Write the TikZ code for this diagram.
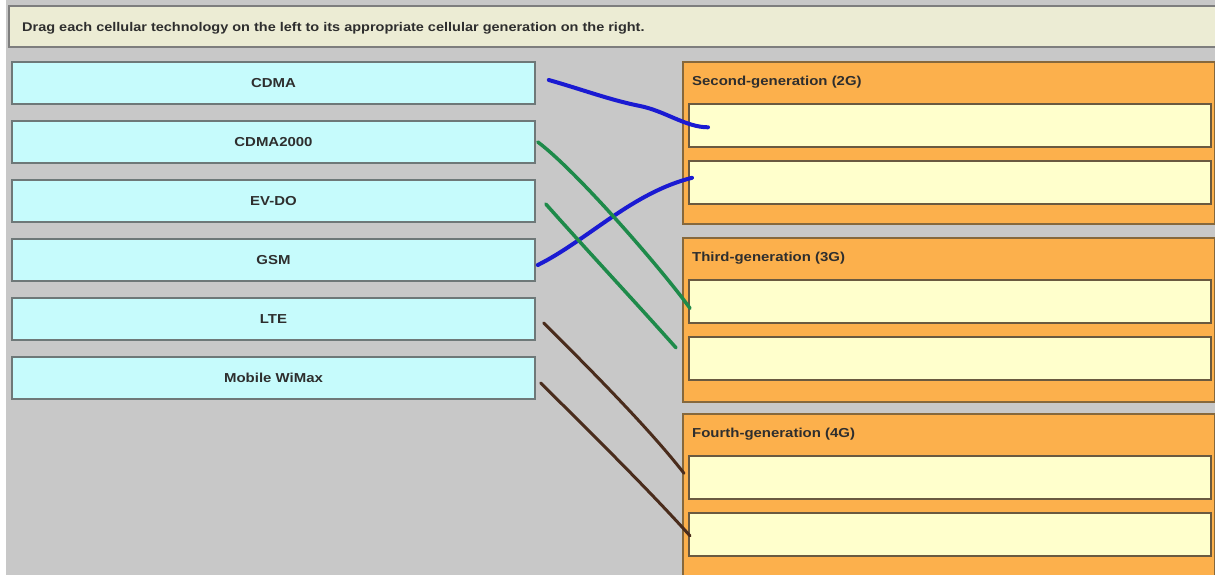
\documentclass[tikz,border=0pt]{standalone}
\usepackage{fontspec}
\setmainfont[FakeStretch=1.15]{Liberation Sans}
\usetikzlibrary{positioning}

\definecolor{bggray}{HTML}{C8C8C8}
\definecolor{bannerfill}{HTML}{ECECD4}
\definecolor{bannerline}{HTML}{7E7E7E}
\definecolor{techfill}{HTML}{C6FBFC}
\definecolor{techline}{HTML}{6E7878}
\definecolor{panelfill}{HTML}{FCB04C}
\definecolor{panelline}{HTML}{86683C}
\definecolor{slotfill}{HTML}{FFFFCC}
\definecolor{slotline}{HTML}{6A5A40}
\definecolor{inktext}{HTML}{2E2E2E}
\definecolor{inkblue}{HTML}{1A1AD2}
\definecolor{inkgreen}{HTML}{1E8A4A}
\definecolor{inkbrown}{HTML}{4A2C1C}

\begin{document}
\begin{tikzpicture}[x=1pt,y=-1pt,node distance=15.4pt,
                    font=\fontsize{13}{15}\selectfont\bfseries,text=inktext,
    banner/.style={draw=bannerline,fill=bannerfill,line width=2pt,anchor=north west,
                   minimum width=1220pt,minimum height=41pt,inner sep=0pt},
    techbox/.style={draw=techline,fill=techfill,line width=1.6pt,
                    minimum width=523pt,minimum height=42pt,inner sep=0pt},
    genpanel/.style={draw=panelline,fill=panelfill,line width=1.6pt,anchor=north west,
                     minimum width=532pt,inner sep=0pt},
    genlabel/.style={anchor=west,inner sep=0pt},
    slot/.style={draw=slotline,fill=slotfill,line width=1.6pt,anchor=north west,
                 minimum width=522pt,minimum height=43pt,inner sep=0pt},
    ink/.style={line width=3.5pt,line cap=round,line join=round}]

  \useasboundingbox (0,0) rectangle (1215,575);
  \clip (0,0) rectangle (1215,575);
  \fill[bggray] (0,0) rectangle (1215,575);
  \fill[white] (0,0) rectangle (6,575);

  % instruction bar
  \node[banner] (task) at (8,5) {};
  \node[anchor=west,inner sep=0pt,font=\fontsize{12.6}{15}\selectfont\bfseries] (prompt)
    at ([xshift=14pt,yshift=-1.5pt]task.west)
    {Drag each cellular technology on the left to its appropriate cellular generation on the right.};

  % technologies
  \node[techbox] (cdma)     at (273.5,83)   {CDMA};
  \node[techbox] (cdma2000) [below=of cdma]     {CDMA2000};
  \node[techbox] (evdo)     [below=of cdma2000] {EV-DO};
  \node[techbox] (gsm)      [below=of evdo]     {GSM};
  \node[techbox] (lte)      [below=of gsm]      {LTE};
  \node[techbox] (wimax)    [below=of lte]      {Mobile WiMax};

  % generations
  \node[genpanel,minimum height=162pt] (gen2) at (682,61)  {};
  \node[genpanel,minimum height=164pt] (gen3) at (682,237) {};
  \node[genpanel,minimum height=175pt] (gen4) at (682,413) {};
  \node[genlabel] (lab2) at ([xshift=10pt,yshift=-21pt]gen2.north west) {Second-generation (2G)};
  \node[genlabel] (lab3) at ([xshift=10pt,yshift=-21pt]gen3.north west) {Third-generation (3G)};
  \node[genlabel] (lab4) at ([xshift=10pt,yshift=-21pt]gen4.north west) {Fourth-generation (4G)};

  \node[slot] (s2a) at (688,103) {};
  \node[slot] (s2b) at (688,160) {};
  \node[slot] (s3a) at (688,279) {};
  \node[slot] (s3b) at (688,336) {};
  \node[slot] (s4a) at (688,455) {};
  \node[slot] (s4b) at (688,512) {};

  % hand drawn answers
  \draw[ink,inkblue,line width=4pt] ([xshift=13pt,yshift=3pt]cdma.east)
    .. controls +(35,10) and +(-30,-6) .. (640,106)
    .. controls +(25,5) and +(-22,0) .. ([xshift=20pt,yshift=-2pt]s2a.west);
  \draw[ink,inkblue,line width=4pt] ([xshift=2pt,yshift=-5pt]gsm.east)
    .. controls +(50,-25) and +(-60,15) .. ([xshift=4pt,yshift=4.5pt]s2b.west);
  \draw[ink,inkgreen] ([xshift=2pt]cdma2000.east)
    .. controls +(40,30) and +(-25,-35) .. ([xshift=2pt,yshift=-7pt]s3a.west);
  \draw[ink,inkgreen] ([xshift=10pt,yshift=-3pt]evdo.east)
    .. controls +(40,45) and +(-40,-45) .. ([xshift=-12pt,yshift=10.5pt]s3b.west);
  \draw[ink,inkbrown,line width=3pt] ([xshift=8pt,yshift=-4pt]lte.east)
    .. controls +(45,45) and +(-35,-45) .. ([xshift=-4pt,yshift=4pt]s4a.west);
  \draw[ink,inkbrown,line width=3pt] ([xshift=5pt,yshift=-5pt]wimax.east)
    .. controls +(45,45) and +(-45,-50) .. ([xshift=2pt,yshift=-1.5pt]s4b.west);
\end{tikzpicture}
\end{document}
